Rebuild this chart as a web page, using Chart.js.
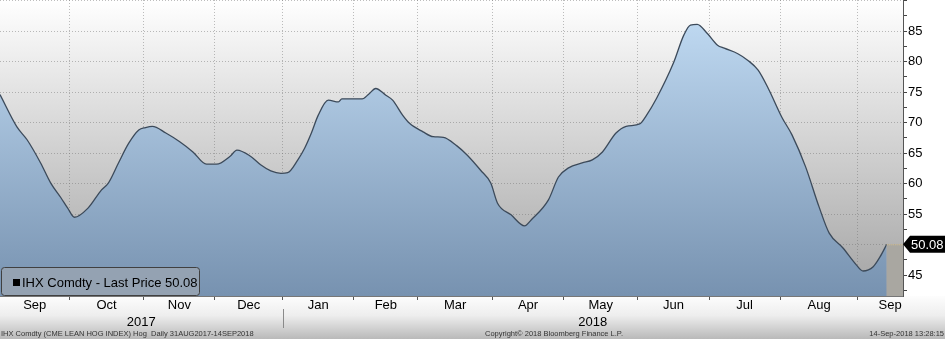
<!DOCTYPE html>
<html>
<head>
<meta charset="utf-8">
<script src="https://cdn.jsdelivr.net/npm/chart.js@4.4.1/dist/chart.umd.min.js"></script>
<style>
  html, body { margin: 0; padding: 0; background: #fff; }
  #wrap { width: 945px; height: 339px; }
</style>
</head>
<body>
<div id="wrap"><canvas id="hogChart" width="945" height="339"></canvas></div>
<script>
// session number = trading day counted from 31 Aug 2017 (session 0)
const sessions = [0, 5, 8, 12, 15, 18, 20, 22, 26, 30,
    32, 35, 38, 41, 43, 45, 49, 53, 57, 61,
    64, 68, 70, 74, 77, 80, 83, 85, 88, 90,
    92, 94, 97, 100, 101, 107, 109, 111, 114, 116,
    119, 121, 125, 128, 131, 135, 138, 142, 145, 147,
    151, 155, 157, 162, 165, 168, 172, 175, 178, 182,
    185, 189, 191, 194, 199, 202, 204, 206, 209, 212,
    214, 218, 221, 224, 227, 231, 234, 238, 242, 245,
    249, 253, 255, 258, 260, 262];
const prices = [74.6, 69.3, 67.2, 63.4, 60.1, 57.7, 56.0, 54.5, 56.0, 59.0,
    60.1, 63.4, 66.6, 68.8, 69.2, 69.4, 68.3, 66.9, 65.2, 63.2,
    63.2, 64.5, 65.5, 64.5, 63.1, 62.1, 61.7, 61.8, 63.9, 65.8,
    68.3, 71.2, 73.7, 73.4, 73.9, 73.9, 74.7, 75.6, 74.5, 73.7,
    71.2, 69.9, 68.5, 67.7, 67.6, 66.2, 64.7, 62.2, 60.1, 56.8,
    54.9, 53.1, 54.1, 57.3, 61.1, 62.6, 63.4, 63.9, 65.2, 68.3,
    69.4, 69.8, 71.2, 74.0, 79.8, 84.3, 86.0, 86.1, 84.6, 82.7,
    82.2, 81.3, 80.2, 78.6, 75.6, 70.9, 68.0, 62.8, 56.2, 51.9,
    49.5, 46.7, 45.7, 46.4, 48.0, 50.08];

// first session of each month, Oct 2017 .. Sep 2018
const monthStarts = [21, 43, 64, 84, 105, 124, 146, 167, 189, 210, 231, 254];
const monthLabels = ['Sep', 'Oct', 'Nov', 'Dec', 'Jan', 'Feb', 'Mar', 'Apr', 'May', 'Jun', 'Jul', 'Aug', 'Sep'];
const sepEnd = 272.5;          // end of the full Sep 2018 month
const yearLabels = ['2017', '2018'];
const yearStart = 84;          // first session of 2018
const lastPrice = 50.08;
const legendText = 'IHX Comdty - Last Price 50.08';
const footerLeft = 'IHX Comdty (CME LEAN HOG INDEX) Hog  Daily 31AUG2017-14SEP2018';
const footerMid = 'Copyright\u00A9 2018 Bloomberg Finance L.P.';
const footerRight = '14-Sep-2018 13:28:15';

const xMin = 0, xMax = 266.8;
const yMin = 41.6, yMax = 90.1;
const FONT = '"Liberation Sans", Arial, sans-serif';

const points = sessions.map((s, i) => ({ x: s, y: prices[i] }));

const decor = {
    id: 'decor',
    beforeDraw(chart) {
        const { ctx, chartArea: a, width, height } = chart;
        ctx.save();
        ctx.fillStyle = '#fff';
        ctx.fillRect(0, 0, width, height);
        let g = ctx.createLinearGradient(0, a.top, 0, a.bottom);
        g.addColorStop(0, '#ffffff');
        g.addColorStop(1, '#a3a3a3');
        ctx.fillStyle = g;
        ctx.fillRect(a.left, a.top, a.right - a.left, a.bottom - a.top);
        g = ctx.createLinearGradient(0, a.bottom, 0, height);
        g.addColorStop(0, '#fdfdfd');
        g.addColorStop(0.45, '#eeeeee');
        g.addColorStop(1, '#b9b9b9');
        ctx.fillStyle = g;
        ctx.fillRect(0, a.bottom, width, height - a.bottom);
        ctx.restore();
    },
    afterDatasetsDraw(chart) {
        const { ctx, chartArea: a, scales } = chart;
        const x0 = scales.x.getPixelForValue(sessions[sessions.length - 1]);
        const y0 = scales.y.getPixelForValue(lastPrice);
        ctx.save();
        ctx.fillStyle = '#a9a7a1';
        ctx.fillRect(x0, y0, a.right - x0, a.bottom - y0);
        ctx.strokeStyle = '#d9c08c';
        ctx.setLineDash([1, 1]);
        ctx.beginPath();
        ctx.moveTo(x0, y0 + 0.5);
        ctx.lineTo(a.right, y0 + 0.5);
        ctx.stroke();
        ctx.restore();
    },
    afterDraw(chart) {
        const { ctx, chartArea: a, scales, width } = chart;
        const xs = scales.x;
        ctx.save();

        // legend box
        ctx.fillStyle = '#94a2b2';
        ctx.strokeStyle = '#404040';
        ctx.lineWidth = 1;
        ctx.beginPath();
        ctx.roundRect(1.5, 267.5, 198, 28, 3);
        ctx.fill();
        ctx.stroke();
        ctx.fillStyle = '#000';
        ctx.fillRect(13, 279, 7, 7);
        ctx.font = '13px ' + FONT;
        ctx.textBaseline = 'alphabetic';
        ctx.textAlign = 'left';
        ctx.fillText(legendText, 22, 287);

        // last price marker
        const yl = scales.y.getPixelForValue(lastPrice);
        ctx.fillStyle = '#000';
        ctx.beginPath();
        ctx.moveTo(a.right, yl);
        ctx.lineTo(a.right + 7, yl - 8.5);
        ctx.lineTo(width, yl - 8.5);
        ctx.lineTo(width, yl + 8.5);
        ctx.lineTo(a.right + 7, yl + 8.5);
        ctx.closePath();
        ctx.fill();
        ctx.fillStyle = '#fff';
        ctx.font = '13px ' + FONT;
        ctx.fillText(lastPrice.toFixed(2), a.right + 8, yl + 5);

        // month labels, centred in each month
        const bounds = [xMin].concat(monthStarts.map(s => s - 0.5), [sepEnd]);
        ctx.fillStyle = '#000';
        ctx.textAlign = 'center';
        monthLabels.forEach((m, i) => {
            const mid = (bounds[i] + bounds[i + 1]) / 2;
            ctx.fillText(m, xs.getPixelForValue(mid), 309);
        });

        // year labels
        const yb = [xMin, yearStart - 0.5, xMax];
        yearLabels.forEach((y, i) => {
            ctx.fillText(y, xs.getPixelForValue((yb[i] + yb[i + 1]) / 2), 326);
        });
        const sep = Math.round(xs.getPixelForValue(yearStart - 0.5)) + 0.5;
        ctx.strokeStyle = '#8a8a8a';
        ctx.beginPath();
        ctx.moveTo(sep, 309);
        ctx.lineTo(sep, 328);
        ctx.stroke();

        // footer
        ctx.fillStyle = '#333';
        ctx.font = '7.5px ' + FONT;
        ctx.textAlign = 'left';
        ctx.fillText(footerLeft, 1, 336);
        ctx.fillText(footerMid, 485, 336);
        ctx.textAlign = 'right';
        ctx.fillText(footerRight, 944, 336);
        ctx.restore();
    }
};

new Chart(document.getElementById('hogChart'), {
    type: 'line',
    data: {
        datasets: [{
            label: 'IHX Comdty',
            data: points,
            borderColor: '#3c4a5a',
            borderWidth: 1.3,
            pointRadius: 0,
            cubicInterpolationMode: 'monotone',
            fill: 'start',
            backgroundColor: (c) => {
                const area = c.chart.chartArea;
                if (!area) return '#9fbcdc';
                const g = c.chart.ctx.createLinearGradient(0, area.top, 0, area.bottom);
                g.addColorStop(0, '#c4def6');
                g.addColorStop(1, '#7792b0');
                return g;
            }
        }]
    },
    options: {
        responsive: false,
        animation: false,
        devicePixelRatio: 1,
        layout: { padding: 0 },
        plugins: { legend: { display: false }, tooltip: { enabled: false } },
        scales: {
            x: {
                type: 'linear',
                min: xMin,
                max: xMax,
                z: 1,
                afterBuildTicks: (scale) => {
                    scale.ticks = monthStarts.map(s => ({ value: s - 0.5 }));
                },
                afterFit: (scale) => {
                    scale.height = 43;
                    scale.paddingLeft = 0;
                    scale.paddingRight = 0;
                },
                ticks: { autoSkip: false, callback: () => '', padding: 0 },
                grid: {
                    color: 'rgba(110,110,110,0.45)',
                    tickColor: '#555',
                    tickLength: 4,
                    lineWidth: 1
                },
                border: { display: true, color: '#777', dash: [1, 2] }
            },
            y: {
                type: 'linear',
                position: 'right',
                min: yMin,
                max: yMax,
                z: 1,
                afterBuildTicks: (scale) => {
                    const t = [];
                    for (let v = 42.5; v <= 90; v += 2.5) t.push({ value: v });
                    scale.ticks = t;
                },
                afterFit: (scale) => {
                    scale.width = 42;
                    scale.paddingTop = 0;
                    scale.paddingBottom = 0;
                },
                ticks: {
                    autoSkip: false,
                    padding: 1,
                    color: '#000',
                    font: { family: FONT, size: 13 },
                    callback: (v) => (v % 5 === 0 && v < 90) ? String(v) : ''
                },
                grid: {
                    color: (c) => (c.tick && c.tick.value % 5 === 0) ? 'rgba(110,110,110,0.45)' : 'transparent',
                    tickColor: '#444',
                    tickLength: 4,
                    lineWidth: 1
                },
                border: { display: true, color: '#555', dash: [1, 2] }
            }
        }
    },
    plugins: [decor]
});
</script>
</body>
</html>
